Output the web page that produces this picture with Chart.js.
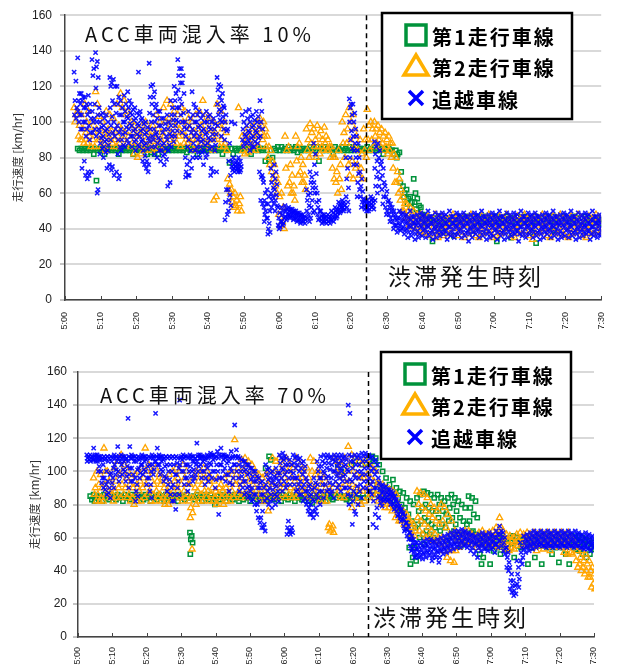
<!DOCTYPE html>
<html lang="ja">
<head>
<meta charset="utf-8">
<title>ACC車両混入率と走行速度</title>
<script src="https://cdn.jsdelivr.net/npm/chart.js@4.4.1/dist/chart.umd.min.js"></script>
<style>
  html, body { margin: 0; padding: 0; background: #fff; }
  #wrap { position: relative; width: 624px; height: 668px; }
  canvas { position: absolute; left: 0; }
  #c10 { top: 0; }
  #c70 { top: 336px; }
</style>
</head>
<body>
<div id="wrap">
  <canvas id="c10" width="624" height="336"></canvas>
  <canvas id="c70" width="624" height="332"></canvas>
</div>
<script>
// x = minutes after 5:00, one row per minute, each row = speeds seen in that minute
const laneNames = ['第1走行車線', '第2走行車線', '追越車線'];
const jamLabel = '渋滞発生時刻';
const jamMinute = 84.2;          // 6:24
const xMin = 0, xMax = 150, xStep = 10;
const yMin = 0, yMax = 160, yStep = 20;

// ---- ACC 10% ----
const lane1Start10 = 4;
const lane1_10 = [
  [85,84],[85,84],[85,84],[85,84],[85,82],[85,84,67],
  [85,84],[85,82],[85,84],[85,84],[85,84],[85,82],[85,84],[85,84],[85,84],[85,82],
  [85,84],[85,84],[85,84],[85,82],[85,83],[85,82],[85,82],[85,84],[85,84],[85,84],
  [85,84],[85,84],[85,84],[85,84],[85,83],[85,84],[85,84],[85,82],[85,84],[85,84],
  [85,84],[85,84],[85,84],[85,84],[85,82],[85,84],[85,77],[85,82],[85,84],[85,84],
  [85,84],[85,84],[85,82],[85,84],[85,84],[85,84],[85,78],[84,79],[84,80],[85,84],
  [86,84],[86,84],[85,84],[86,84],[85,84],[86,83],[85,84],[85,84],[85,84],[86,84],
  [85,84],[86,78],[85,84],[86,84],[85,84],[85,82],[86,84],[85,84],[86,84],[85,84],
  [86,84],[85,84],[86,84],[85,84],[85,84],[86,84],[85,84],[86,84],[85,84],[85,82],
  [85,84],[86,84],[84,82],[84,82,80],[83,72,66],[64,60,58],[62,57,54],[58,55,52],[68,60,55,51],[57,53,49],
  [52,48,46],[47,45,43],[46,44],[46,44,33],[46,43],[47,44],[45,43,38],[46,44],[46,44],[46,43,36],
  [47,45],[46,44],[46,43],[47,44],[46,44,39],[46,43],[47,44],[46,44],[47,45],[46,43],
  [46,44],[47,44,33],[46,43],[46,44],[47,45],[46,44,35],[46,43],[47,44],[46,44],[47,45],
  [46,43],[46,44,38],[47,44,32],[46,44],[46,43],[47,45],[46,44],[47,44,39],[46,43],[46,44],
  [47,45],[46,44],[46,43],[47,44],[46,44],[46,43],[47,45],[46,44],[46,43],[46,44],
  [45,43]
];

const lane2Start10 = 3;
const lane2_10 = [
  [108,104,100],[106,98,92,90],[104,96,90,88],[110,100,94,88],[106,97,92,86],[100,94,90,86],[117,110,96,90],
  [103,95,90,86],[100,93,88,84],[106,96,92,86],[104,95,90,88],[102,94,90,86],[110,98,92,88],[116,108,96,90],[112,104,94,88],[106,98,92,86],[100,94,88,82],
  [98,92,88,80],[96,92,86,82],[98,94,88,84],[100,94,90,86],[96,92,88,84],[98,93,89,85],[104,96,90,86],[100,94,90,84],[108,100,92,88],[112,102,96,90],
  [110,100,94,88],[106,98,92,88],[104,96,92,86],[108,100,94,88],[106,98,92,88],[102,96,90,86],[100,94,90,84],[104,96,90,86],[106,98,92,88],[112,100,94,88],
  [104,96,90,86],[102,95,90,84],[100,94,90,58,56],[110,98,92,86],[106,96,90,86],[100,94,88,84],[68,65,62,60],[62,58,55,52],[60,56,53,50],[108,58,54,50],
  [92,88,84,82],[94,90,86,83],[98,92,88,84],[96,92,88,84],[100,96,92,86],[102,98,94,90],[100,96,92,86],[92,86,80,76],[84,78,72,68],[76,70,64,60],
  [66,58,48,42],[60,52,44,40],[92,84,74,64],[86,76,66,60],[70,64,60,56],[92,86,78,70],[88,80,72,66],[76,70,66,62],[96,90,84,80],[99,94,88,82],
  [96,90,86,80],[98,92,86,82],[95,90,86,84],[97,92,88,84],[90,86,84,80],[86,80,74,68],[80,72,66,60],[84,76,68,62],[100,94,88,80],[104,96,88,76],
  [108,100,90,78,70],[104,96,86,74,68],[92,84,76,70],[90,82,74,68],[96,90,84,80],[107,98,90,84],[100,96,90,86],[100,96,92,88],[98,94,90,86],[96,92,88,84],
  [94,90,86,82],[92,88,84,80],[88,82,74,66],[80,72,66,60],[68,62,56,50],[58,54,50,46],[54,50,46,42],[52,48,44,41],[50,47,44,40],[48,45,42,38],
  [48,44,40,37],[46,42,38],[47,43,36],[45,41,37],[48,44,39,35],[46,42,38],[47,41,36],[45,42,38],[46,43,37],[48,44,40],
  [46,41,36],[45,42,38],[47,43,35],[46,42,37],[48,44,39],[46,41,36],[45,40,35],[47,42,37],[46,43,38],[48,44,39],
  [46,41,35],[45,40,36],[47,42,37],[46,43,38],[48,44,40],[46,41,36],[45,40,35],[47,42,38],[46,43,37],[48,44,39],
  [46,41,36],[45,39,34],[47,42,37],[46,43,38],[48,44,40],[46,41,36],[45,40,35],[47,42,38],[46,43,37],[48,44,39],
  [46,41,36],[45,40,35],[47,42,37],[46,43,38],[48,44,40],[46,41,36],[45,40,35],[47,42,38],[46,43,37],[48,44,39],
  [46,42,38]
];

const passStart10 = 3;
const pass_10 = [
  [128,123,112,108,104,102],[136,116,112,110,106,104,100,96],[116,114,112,108,104,100,96,78,74],[114,110,108,104,100,96,92,72,70,68],
  [115,110,106,102,98,94,90,72,70],[135,130,126,110,106,102,100,96,94],[139,134,131,125,119,104,100,96,92,62,60],
  // 5:10
  [108,104,100,97,94,91,88,85,82],[105,102,98,95,92,89,86,83,80],[104,100,96,93,90,87,84,76,74],[125,122,120,112,108,103,98,94,90,75,73],
  [124,120,110,105,100,96,92,72,70],[120,114,110,104,98,94,90,86,82,70,68],[112,108,104,100,96,93,90,87,84],[115,110,106,103,100,97,94,90,86],
  [117,112,108,105,102,99,96,92,88],[110,107,104,101,98,95,92,89,86],
  // 5:20
  [108,105,102,99,96,93,90,87,84],[128,106,104,101,98,95,92,89,86],[102,99,96,93,90,87,84,81,78,76],[100,97,94,91,88,85,78,76,74,72],
  [133,120,114,110,105,100,96,92,89,86],[121,117,114,108,104,100,96,93,90,86,82],[110,106,102,98,94,91,88,84,80],[106,102,98,94,90,87,84,81,78],
  [102,99,96,92,88,85,82,79,76],[104,100,96,93,90,87,84,66,64],
  // 5:30
  [112,108,104,101,98,95,92,89,86],[120,116,112,108,104,101,98,95,92],[135,130,126,122,118,113,108,104,100],[130,126,122,116,110,105,100,97,94],
  [100,96,92,86,80,76,72,70,69],[106,102,98,94,90,84,78,74,70],[117,110,104,100,96,92,88,84,80],[108,104,100,97,94,90,86,83,80],
  [106,102,98,95,92,89,86,83,80],[104,100,96,93,90,87,84,80,76],
  // 5:40
  [106,103,100,97,94,91,88,85,82],[104,100,96,93,90,86,74,72,70],[102,99,96,93,90,87,84,72],[125,121,118,114,110,107,104,101,98],
  [120,116,112,109,106,103,100,96,92],[108,104,100,95,90,62,55,48,45],[96,88,78,70,62,59,56,53,50],[100,80,78,76,75,74,73,72],
  [99,78,77,76,75,74,73,72],[80,78,76,75,74,73,72],
  // 5:50
  [104,100,96,93,90,88,86],[106,102,98,95,92,90,88],[107,103,100,97,94,91,88,86,84],[104,101,98,95,92,89,86],
  [106,103,100,97,94,91,88,72],[112,106,100,96,92,70,69,68,56,54],[66,60,56,54,52,50,48,46,44],[62,58,54,50,46,43,40,38,37],
  [74,70,66,63,60,58,56,54,52],[76,72,68,65,62,59,56,53,50],
  // 6:00
  [52,49,46,44,42,41,40],[52,50,48,46,44,43,42],[53,51,50,48,47,46,45],[52,51,50,49,48,47,46],[51,50,49,48,47,46,45],
  [50,49,48,47,46,45,44],[49,48,47,46,45,44,43],[48,47,46,45,44,43],[62,59,56,53,50,48,46,44],[72,69,66,63,60,56,52,49,46],
  // 6:10
  [88,82,76,71,66,63,60,55,50],[60,56,52,50,48,46,45],[50,48,47,46,45,44,43],[48,47,46,45,44,43],[48,47,46,45,44,43],
  [50,49,47,46,45,44],[52,51,50,49,48,47,46],[55,54,53,52,51,50,49],[56,55,54,53,52,51,50],[80,74,68,63,58,55,52,50],
  // 6:20
  [113,110,108,104,100,95,90,85,80],[110,105,100,96,92,88,84,80,76],[92,88,84,80,76,71,66,62,58],[72,68,64,61,58,55,52],
  [57,56,55,54,53,52,51,50],[56,55,54,53,52,51,50],[58,57,56,55,54,53,52,51],[89,86,82,78,74,69,64,60,56],
  [88,84,80,76,72,68,64],[78,74,70,66,62,58,54],
  // 6:30
  [64,61,58,55,52,50,48],[56,54,52,50,48,46,44],[52,50,48,46,44,42,40],[48,46,45,43,42,40,38],[50,48,46,44,42,40,39],
  [49,47,45,43,41,39,37],[48,46,44,42,40,38,35],[50,47,45,43,41,38,36],[47,45,43,42,40,37,34],[48,46,44,42,39,37,35],
  // 6:40
  [49,47,45,43,41,39,36],[48,46,44,42,40,38,35],[50,47,45,43,41,38,36],[47,45,43,41,39,37,34],[49,46,44,42,40,38,35],
  [48,46,44,42,40,38,36],[49,47,45,43,41,39,37],[48,45,43,41,39,37,34],[50,47,45,43,41,38,36],[47,45,43,42,40,37,35],
  // 6:50
  [49,47,45,43,41,39,37],[48,46,44,42,40,38,35],[49,47,45,43,41,38,36],[47,45,43,41,39,37,33],[48,46,44,42,40,38,35],
  [49,47,45,43,41,39,37],[48,46,44,42,40,38,35],[50,47,45,43,41,38,36],[47,45,43,42,40,37,34],[48,46,44,42,39,37,35],
  // 7:00
  [49,47,45,43,41,39,36],[48,46,44,42,40,38,34],[50,47,45,43,41,38,36],[47,45,43,41,39,37,34],[49,46,44,42,40,38,35],
  [48,46,44,42,40,38,36],[49,47,45,43,41,39,37],[48,45,43,41,39,37,33],[50,47,45,43,41,38,36],[47,45,43,42,40,37,35],
  // 7:10
  [49,47,45,43,41,39,37],[48,46,44,42,40,38,35],[49,47,45,43,41,38,36],[47,45,43,41,39,37,34],[48,46,44,42,40,38,35],
  [49,47,45,43,41,39,37],[48,46,44,42,40,38,35],[50,47,45,43,41,38,36],[47,45,43,42,40,37,34],[48,46,44,42,39,37,35],
  // 7:20
  [49,47,45,43,41,39,36],[48,46,44,42,40,38,35],[50,47,45,43,41,38,36],[47,45,43,41,39,37,34],[49,46,44,42,40,38,35],
  [48,46,44,42,40,38,36],[49,47,45,43,41,39,37],[48,45,43,41,39,37,34],[50,47,45,43,41,38,36],[47,45,43,42,40,37,35],
  // 7:30
  [48,46,44,42,40,38,36]
];

// ---- ACC 70% ----
const lane1Start70 = 4;
const lane1_70 = [
  [85,83],[86,84,82],[85,83],[85,82],[86,84],[85,83],
  [86,84],[85,83],[86,84],[85,82],[86,84],[85,83],[86,84],[85,82],[86,84],[85,83],
  [86,84],[85,82],[86,84],[85,83],[86,84],[85,82],[86,84],[85,83],[86,84],[85,82],
  [86,84],[85,83],[86,84],[63,61,59,57,50],[85,83],[86,84],[85,82],[86,84],[85,83],[86,84],
  [84,82,80],[85,83],[86,84],[85,82],[86,84],[85,83],[86,84],[86,84,82],[85,83],[86,84],
  [85,82],[86,84],[85,83],[86,84],[85,82],[102,85,83],[109,107,84],[85,83],[86,84],[85,82],
  [86,84],[85,83],[86,84],[85,82],[86,84],[85,83],[86,84],[85,82],[84,81],[86,84],
  [85,83],[86,84],[85,82],[86,84],[85,83],[86,84],[104,85],[100,84],[85,83],[84,82],
  [104,86,84],[106,84],[86,84],[104,84],[105,86],[107,86],[109,106,88],[108,92,86],[104,90,86],[100,88,84],
  [96,88,84],[92,86,82],[95,86,80],[90,84,78],[88,80,76],[87,78,72],[84,74,66,54],[82,70,60,48,44],[80,66,54,46],[84,76,68,60],
  [86,78,70,62],[88,80,72,64,56],[87,78,70,62],[86,76,68,60],[84,76,66,58],[86,80,72,64],[84,76,68],[82,74,66,58],[84,78,70,62],[86,80,72,64],
  [84,76,68,60],[82,72,62,55],[80,70,60],[78,68,58],[85,78,70,63],[84,74,64,58],[82,72,62,56],[58,56,50,44],[60,57,48],[60,58,54],
  [60,57,44],[59,56,52],[60,58,54],[61,57,50],[60,58,55],[59,56,53],[60,57,54],[61,58,48],[60,58,55],[59,57,54],
  [60,58,55],[61,57,44],[60,58,54],[59,57,48],[60,58,55],[61,57,44],[60,58,55],[61,58,54],[60,57,50],[59,57,54],
  [61,58,45],[60,57,54],[61,58,50],[60,57,44],[61,58,55],[60,58,53],[61,57,52],[60,56,50],[59,55,48],[58,54,50],
  [57,53]
];

const lane2Start70 = 5;
const lane2_70 = [
  [96,90,86,82],[100,92,86,82],[98,90,84,82],[114,100,92,86],[100,94,88,84],
  [96,90,86,82],[102,94,88,84],[106,98,90,84],[110,100,92,86],[104,96,90,84],[100,92,86,82],[96,90,84,80],[98,92,86,82],[100,94,88,82],[102,96,90,84],
  [114,100,92,86],[104,96,88,82],[100,92,86,82],[102,94,88,84],[98,92,86,82],[96,90,84,80],[94,88,84,80],[98,92,86,82],[100,94,88,84],[102,96,90,84],
  [100,92,86,82],[104,96,88,84],[100,92,86,82],[92,84,78,75,72,53],[96,90,84,80],[100,94,88,82],[98,92,86,82],[102,96,88,84],[100,94,88,82],[96,90,86,82],
  [94,88,84,80],[96,90,86,82],[92,88,84,80],[96,90,86,82],[98,92,86,82],[100,94,88,84],[119,98,92,86],[102,94,88,84],[107,100,92,86],[108,104,96,88,84],
  [106,100,94,88],[104,98,92,86],[100,94,88,84],[98,92,86,82],[96,90,86,82],[98,92,86,76],[100,94,88,84],[108,100,92,86],[106,98,90,84],[108,100,92,86],
  [104,96,90,84],[108,100,92,86],[104,96,90,84],[102,94,88,84],[108,96,90,86],[104,96,90,86],[100,94,88,84],[102,96,90,84],[108,100,92,86],[106,98,90,84],
  [100,94,88,82],[98,92,86,82],[96,90,86,82],[92,68,66,64],[88,67,65,63],[108,100,92,86],[106,98,90,84],[104,96,90,84],[108,100,92,86],[115,104,94,88],
  [110,100,92,84,78],[108,98,90,82],[106,96,88,80],[104,96,88,82],[107,98,90,84],[104,96,90,86],[102,94,88,84],[100,92,86,82],[93,88,84,80],[92,86,82,78],
  [90,86,82,78],[89,84,80,76],[88,84,78,72],[86,80,74,70],[78,74,70],[76,72,68],[74,70,67],[70,66,62],[68,64,61],[88,80,72,64],
  [87,78,70,62],[86,76,68,60],[84,74,66,60],[80,72,64,58],[78,70,62,58],[76,68,60,56],[80,70,60,52],[78,66,56,48],[74,62,52,46],[70,60,52,45],
  [64,58,52],[62,58,54],[63,60,56],[64,60,57],[64,61,58],[62,59,56],[60,57,54],[63,60,56],[64,61,57],[62,59,55],
  [63,60,56],[64,60,55],[66,62,58,54],[72,66,60,56],[64,60,56,53],[62,58,55,52],[61,58,54],[60,57,53],[62,58,55],[63,60,56],
  [62,59,55],[63,60,57],[62,58,55],[63,60,56,52],[62,58,55],[63,60,56,53],[62,59,55],[63,60,56,52],[62,58,55],[63,60,57],
  [62,58,54],[63,59,56,51],[62,58,54,50],[63,59,55,51],[60,55,50],[56,52,46,42],[54,48,44,40],[52,46,42,38],[50,44,40,36],[46,40,36,30],
  [42,38,32,29]
];

const passStart70 = 3;
const pass_70 = [
  [110,109,108,107,106],[110,109,108,107,106],[114,110,109,108,107,106],[110,109,108,107,106,103,100],
  [109,108,107,104,100,96,93,90],[109,108,107,100,96,92,89,86],[109,108,106,98,94,90,87,84],
  // 5:10
  [109,108,106,102,99,96,93,90],[110,109,108,106,104,101,98],[115,109,108,106,100,97,94],[110,109,108,106,104,101,98],
  [109,108,107,103,100,97,94],[132,115,109,108,106,102,98,94,90],[110,109,108,106,102,98,94],[109,108,106,101,96,92,88,85,82],
  [109,108,107,104,102,99,96],[110,109,108,106,104,101,98],
  // 5:20
  [109,108,107,103,100,96,92],[109,108,104,100,96,92,88,84],[110,109,108,106,104,101,98],[135,114,109,108,106,104],
  [110,109,108,106,104,101,98],[109,108,107,103,100,97,94],[109,108,104,100,96,92,88],[109,108,104,100,95,90,86,82],
  [109,108,104,98,92,86,82,77],[109,108,105,102,98,94,90,86],
  // 5:30
  [143,109,108,107,104,100],[110,109,108,104,100,96,92],[109,108,104,100,96,92,88],[110,109,108,106,103,100,97,94],
  [109,108,106,104,101,98,96],[117,110,109,108,106,103,100],[110,109,108,106,104,100,96],[109,108,107,104,100,96,92],
  [110,109,108,105,102,98,94],[111,110,109,107,104,100,96],
  // 5:40
  [110,109,108,104,100,95,90],[112,110,108,104,100,96,74],[114,110,109,107,104,100,96],[110,109,108,105,102,98,94],
  [109,108,106,102,98,93,88],[112,109,108,104,100,96,92],[128,113,109,108,104,100],[109,108,104,100,96,92,88],
  [107,106,103,100,97,94,90,86],[106,104,101,98,94,90,87,84],
  // 5:50
  [104,102,99,95,91,88,85,82],[102,100,97,94,90,86,83,80],[100,97,94,90,86,80,76,72],[96,93,90,86,82,72,69,66],
  [94,90,86,82,76,68,66,64],[104,101,98,95,92,88,84,80],[102,99,96,93,90,86,82,78],[100,97,95,92,89,86,83,80],
  [102,99,96,94,91,88,85,82],[110,108,105,102,99,96,92,88],
  // 6:00
  [111,109,107,104,101,98,94,90],[108,104,100,96,92,70,66,64,62],[107,104,100,96,92,66,64,63,62],[110,108,105,102,99,96,92,88],
  [109,107,104,100,96,92,89,86],[108,105,102,98,94,90,86,82],[106,103,100,96,92,88,84,80],[94,91,88,85,82,78,76,74],
  [92,89,86,83,80,76,74,72],[96,93,90,86,82,78,76,74],
  // 6:10
  [106,103,100,96,92,88,84,80],[109,106,103,100,96,92,88,84],[110,108,105,102,99,96,92,88],[110,108,105,101,97,93,89,86],
  [109,107,104,100,96,92,88,84],[110,108,106,103,100,97,94,90],[110,108,105,102,99,96,92,88],[110,108,106,103,100,97,94,90],
  [109,107,104,101,98,94,90,86],[140,135,110,106,100,95,90,85,80],
  // 6:20
  [109,106,102,98,94,88,82,76,68],[110,108,104,100,96,91,86,80,74],[110,108,104,100,96,92,88,84],[111,109,106,102,98,94,90],
  [111,109,106,102,98,94,90,88],[110,108,104,100,96,92,88,86],[109,106,102,98,94,90,82,74,68],[107,104,100,96,90,84,78,72,66],
  [93,91,89,87,85,83,81,79],[92,90,88,86,84,83,82],
  // 6:30
  [91,89,87,86,84,83,82],[89,88,86,85,83,82,80],[87,85,84,82,80,79,77],[83,81,79,78,76,74,73],[79,77,76,74,72,71,70],
  [75,73,71,69,67,65,64],[69,67,65,63,61,59],[63,61,59,57,55,53,52],[59,57,55,53,51,49,48],[57,55,53,51,50,48],
  // 6:40
  [57,55,53,51,49,47],[58,56,54,52,50,48],[59,57,55,53,51,49],[59,57,55,53,51,48,46],[58,56,54,52,50,48],
  [59,57,55,53,51,48,45],[60,58,56,54,52,50],[61,59,57,55,53,51],[62,60,58,56,54,52],[63,61,59,57,55,53],
  // 6:50
  [64,62,60,58,56,54],[64,62,60,58,56,54],[65,63,61,59,57,55],[64,62,60,58,56,54],[63,61,59,57,55,52],
  [62,60,58,56,54,50],[61,59,57,55,52,48],[62,60,58,56,54,52],[63,61,59,57,55,53],[62,60,58,56,54,52],
  // 7:00
  [63,61,59,57,55,53],[62,60,58,56,54,51],[64,62,60,58,56,54],[67,64,62,60,58,55],[63,60,57,54,52,50],
  [54,51,48,45,42,40],[42,38,34,31,29,27],[34,31,28,26,25],[46,42,38,35,32,30],[57,54,51,48,46,44],
  // 7:10
  [61,59,57,55,53,51],[62,60,58,56,54,52],[63,61,59,57,55,53],[64,62,60,58,56,54],[63,61,59,57,56,55],
  [64,62,60,58,56,55],[63,61,59,57,55,54],[64,62,60,58,56,55],[63,61,59,57,55,54],[64,62,60,58,56,55],
  // 7:20
  [63,61,59,57,55,54],[64,62,60,58,56,55],[63,61,59,57,55,54],[64,62,60,58,56,55],[63,61,59,57,55,54],
  [64,62,60,58,56,55],[63,61,59,57,55,54],[62,60,58,56,54,53],[63,61,59,57,55,53],[62,60,58,56,54,52],
  // 7:30
  [61,59,57,55,54]
];

const green = '#00923a', orange = '#ffa500', blue = 'rgba(0,0,255,0.9)';
const cjk = '"Noto Sans CJK JP", sans-serif';
Chart.defaults.font.family = 'Arial, "Liberation Sans", sans-serif';

// spread the samples of one minute across that minute
const stagger = [0.05, 0.55, 0.3, 0.8, 0.15, 0.65, 0.4, 0.9, 0.25, 0.75, 0.5, 0.95];
function buildPoints(start, rows) {
  const pts = [];
  rows.forEach((vals, i) => {
    vals.forEach((v, j) => pts.push({ x: start + i - 0.5 + stagger[j % stagger.length], y: v }));
  });
  return pts;
}

function fmtTime(v) {
  const h = 5 + Math.floor(v / 60), m = v % 60;
  return h + ':' + String(m).padStart(2, '0');
}

const overlay = {
  id: 'overlay',
  afterDatasetsDraw(chart, args, o) {
    const { ctx, chartArea: a, scales: { x } } = chart;
    ctx.save();
    // inside tick marks on time axis
    ctx.strokeStyle = '#444'; ctx.lineWidth = 1;
    for (let v = xMin; v <= xMax; v += xStep) {
      const px = Math.round(x.getPixelForValue(v)) + 0.5;
      ctx.beginPath(); ctx.moveTo(px, a.bottom); ctx.lineTo(px, a.bottom - 4); ctx.stroke();
    }
    // jam onset line
    const jx = Math.round(x.getPixelForValue(jamMinute)) + 0.5;
    ctx.setLineDash([5, 4]); ctx.lineWidth = 1.5; ctx.strokeStyle = '#000';
    ctx.beginPath(); ctx.moveTo(jx, a.top); ctx.lineTo(jx, a.bottom); ctx.stroke();
    ctx.setLineDash([]);

    ctx.fillStyle = '#111'; ctx.textBaseline = 'middle'; ctx.textAlign = 'left';
    ctx.font = '20px ' + cjk; ctx.letterSpacing = '4px';
    ctx.fillText(o.title, o.titleX, o.titleY);
    ctx.font = '23px ' + cjk; ctx.letterSpacing = '3px';
    ctx.fillText(jamLabel, o.jamX, o.jamY);

    // legend box
    const b = o.box;
    ctx.fillStyle = '#fff'; ctx.fillRect(b.x, b.y, b.w, b.h);
    ctx.lineWidth = 2.5; ctx.strokeStyle = '#000'; ctx.strokeRect(b.x, b.y, b.w, b.h);
    const mx = b.x + 34, rows = [b.y + 22, b.y + 53, b.y + 85];
    ctx.lineWidth = 3.5;
    ctx.strokeStyle = green; ctx.strokeRect(mx - 10, rows[0] - 10, 20, 20);
    ctx.strokeStyle = '#ffb000'; ctx.lineJoin = 'miter';
    ctx.beginPath(); ctx.moveTo(mx, rows[1] - 11); ctx.lineTo(mx + 12, rows[1] + 9); ctx.lineTo(mx - 12, rows[1] + 9); ctx.closePath(); ctx.stroke();
    ctx.strokeStyle = '#0000ff';
    ctx.beginPath(); ctx.moveTo(mx - 7, rows[2] - 7); ctx.lineTo(mx + 7, rows[2] + 7);
    ctx.moveTo(mx + 7, rows[2] - 7); ctx.lineTo(mx - 7, rows[2] + 7); ctx.stroke();
    ctx.fillStyle = '#000'; ctx.font = 'bold 20px ' + cjk; ctx.letterSpacing = '2px';
    laneNames.forEach((n, i) => ctx.fillText(n, b.x + 50, rows[i] + 2));
    ctx.restore();
  }
};

function makeChart(id, series, o) {
  return new Chart(document.getElementById(id), {
    type: 'scatter',
    data: {
      datasets: [
        { label: laneNames[0], data: buildPoints(series[0][0], series[0][1]), pointStyle: 'rect', radius: 3,
          borderColor: green, backgroundColor: 'rgba(0,0,0,0)', borderWidth: 1.5, order: 3 },
        { label: laneNames[1], data: buildPoints(series[1][0], series[1][1]), pointStyle: 'triangle', radius: 3.6,
          borderColor: orange, backgroundColor: 'rgba(0,0,0,0)', borderWidth: 1.3, order: 2 },
        { label: laneNames[2], data: buildPoints(series[2][0], series[2][1]), pointStyle: 'crossRot', radius: 3,
          borderColor: blue, backgroundColor: blue, borderWidth: 1.5, order: 1 }
      ]
    },
    options: {
      responsive: false, animation: false, devicePixelRatio: 1,
      layout: { padding: { top: o.padTop, right: o.padRight, left: 0, bottom: 0 } },
      plugins: { legend: { display: false }, tooltip: { enabled: false }, overlay: o },
      scales: {
        x: {
          type: 'linear', min: xMin, max: xMax,
          afterFit: s => { s.height = o.xHeight; },
          ticks: { stepSize: xStep, autoSkip: false, maxRotation: 90, minRotation: 90, padding: o.xPad,
                   font: { size: 9 }, color: '#222', callback: fmtTime },
          grid: { drawOnChartArea: false, drawTicks: false },
          border: { color: '#444', width: 1.5 }
        },
        y: {
          min: yMin, max: yMax,
          afterFit: s => { s.width = o.yWidth; },
          ticks: { stepSize: yStep, padding: o.yPad, font: { size: 12 }, color: '#222' },
          grid: { color: '#d9d9d9', lineWidth: 2, tickLength: 5, tickColor: '#888', tickWidth: 1 },
          border: { color: '#444', width: 1.5 },
          title: { display: true, text: '走行速度 [km/hr]', color: '#333',
                   font: { size: 11.5, family: cjk }, padding: { top: o.yTitlePad } }
        }
      }
    },
    plugins: [overlay]
  });
}

makeChart('c10',
  [[lane1Start10, lane1_10], [lane2Start10, lane2_10], [passStart10, pass_10]],
  { title: 'ACC車両混入率 10%', titleX: 85, titleY: 34, jamX: 388, jamY: 276,
    box: { x: 382, y: 13, w: 190, h: 106 },
    padTop: 14, padRight: 11, xHeight: 36, xPad: 12, yWidth: 65, yPad: 8, yTitlePad: 11 });

makeChart('c70',
  [[lane1Start70, lane1_70], [lane2Start70, lane2_70], [passStart70, pass_70]],
  { title: 'ACC車両混入率 70%', titleX: 100, titleY: 59, jamX: 373, jamY: 281,
    box: { x: 381, y: 16, w: 190, h: 107 },
    padTop: 36, padRight: 30, xHeight: 31, xPad: 10, yWidth: 78, yPad: 6, yTitlePad: 28 });
</script>
</body>
</html>
